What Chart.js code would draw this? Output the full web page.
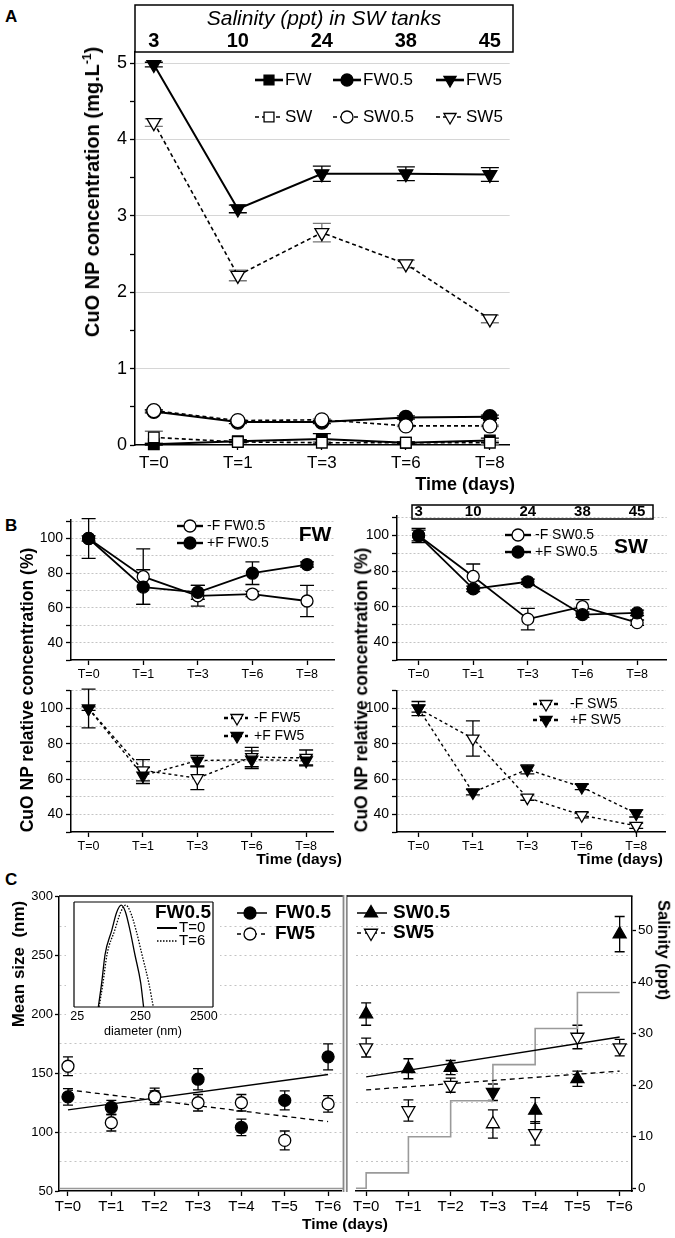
<!DOCTYPE html>
<html>
<head>
<meta charset="utf-8">
<title>CuO NP concentration and mean size</title>
<script src="https://cdn.jsdelivr.net/npm/chart.js@4.4.1/dist/chart.umd.min.js"></script>
<style>
  html, body { margin: 0; padding: 0; background: #fff; }
  body { position: relative; width: 675px; height: 1238px; overflow: hidden;
         font-family: "Liberation Sans", Arial, sans-serif; color: #000; }
  canvas { position: absolute; }
  .txt { position: absolute; white-space: nowrap; line-height: 1; }
  .b { font-weight: bold; }
  .ctr { transform: translate(-50%, -50%); }
  .up { transform: translate(-50%, -50%) rotate(-90deg); }
  .down { transform: translate(-50%, -50%) rotate(90deg); }
  sup { font-size: 0.6em; vertical-align: 0.7em; line-height: 0; }
  #insetC { background: #fff; }
</style>
</head>
<body>
<canvas id="chartA"></canvas>
<canvas id="chartBFW05"></canvas>
<canvas id="chartBSW05"></canvas>
<canvas id="chartBFW5"></canvas>
<canvas id="chartBSW5"></canvas>
<canvas id="chartCFW"></canvas>
<canvas id="chartCSW"></canvas>
<canvas id="insetC"></canvas>

<div class="txt b" style="left:5px;top:8px;font-size:17px">A</div>
<div class="txt b" style="left:5px;top:517px;font-size:17px">B</div>
<div class="txt b" style="left:5px;top:871px;font-size:17px">C</div>

<div class="txt b up" style="left:92px;top:192px;font-size:20px">CuO NP concentration (mg.L<sup>-1</sup>)</div>
<div class="txt b" style="right:160px;top:475px;font-size:18px">Time (days)</div>

<div class="txt b up" style="left:28px;top:690px;font-size:17.5px">CuO NP relative concentration (%)</div>
<div class="txt b up" style="left:362px;top:690px;font-size:17.5px">CuO NP relative concentration (%)</div>
<div class="txt b ctr" style="left:315px;top:533px;font-size:21px">FW</div>
<div class="txt b ctr" style="left:631px;top:545px;font-size:21px">SW</div>
<div class="txt b" style="right:333px;top:851px;font-size:15.5px">Time (days)</div>
<div class="txt b" style="right:12px;top:851px;font-size:15.5px">Time (days)</div>

<div class="txt b up" style="left:18px;top:964px;font-size:17px">Mean size&nbsp;&nbsp;(nm)</div>
<div class="txt b down" style="left:664px;top:950px;font-size:16.5px">Salinity (ppt)</div>
<div class="txt b ctr" style="left:345px;top:1224px;font-size:15.5px">Time (days)</div>
<div class="txt ctr" style="left:143px;top:1031px;font-size:12.5px">diameter (nm)</div>

<script>
Chart.defaults.font.family = '"Liberation Sans", Arial, sans-serif';
Chart.defaults.color = '#000';

// ---- shared categories ----
const timeLabels = ['T=0', 'T=1', 'T=3', 'T=6', 'T=8'];
const timeSlots = [0, 1, 2, 3, 4];
const swSalinity = [3, 10, 24, 38, 45];

// ---- panel A: CuO NP concentration (mg/L) ----
const concFW = [0.01, 0.05, 0.08, 0.03, 0.06];
const concFWErr = [0.01, 0.02, 0.07, 0.01, 0.03];
const concFW05 = [0.44, 0.30, 0.30, 0.36, 0.37];
const concFW05Err = [0.02, 0.02, 0.02, 0.02, 0.02];
const concFW5 = [4.98, 3.09, 3.55, 3.55, 3.54];
const concFW5Err = [0.03, 0.05, 0.10, 0.09, 0.09];
const concSW = [0.10, 0.04, 0.03, 0.03, 0.03];
const concSWErr = [0.08, 0.01, 0.01, 0.01, 0.02];
const concSW05 = [0.45, 0.32, 0.33, 0.25, 0.25];
const concSW05Err = [0.01, 0.01, 0.01, 0.01, 0.01];
const concSW5 = [4.22, 2.22, 2.78, 2.37, 1.65];
const concSW5Err = [0.05, 0.07, 0.12, 0.05, 0.05];

// ---- panel B: relative concentration (%) ----
const relFW05noF = [100, 78, 67, 68, 64];
const relFW05noFErr = [11.5, 16, 6, 1.5, 9];
const relFW05F = [100, 72, 69, 80, 85];
const relFW05FErr = [1.5, 10, 4, 6.5, 1.5];
const relSW05noF = [100, 77, 53, 60, 51];
const relSW05noFErr = [4, 7, 6, 4, 1.5];
const relSW05F = [100, 70, 74, 55.5, 56.5];
const relSW05FErr = [3, 1.5, 1.5, 1.5, 1.5];
const relFW5noF = [100, 65, 60.5, 72.5, 72];
const relFW5noFErr = [1, 6, 6.5, 5.5, 4.5];
const relFW5F = [100, 62, 70.5, 71, 70.5];
const relFW5FErr = [11, 4.5, 3, 5, 2.5];
const relSW5noF = [100, 83, 49.5, 39.5, 33.5];
const relSW5noFErr = [2, 10, 1.5, 1.5, 1.5];
const relSW5F = [100, 52.5, 65.5, 55.5, 40.5];
const relSW5FErr = [4, 1.5, 2.5, 1.5, 2];

// ---- panel C: mean size (nm) and salinity (ppt) ----
const dayLabels = ['T=0', 'T=1', 'T=2', 'T=3', 'T=4', 'T=5', 'T=6'];
const days = [0, 1, 2, 3, 4, 5, 6];
const sizeFW05 = [130, 121, 130.5, 145, 104, 127, 164];
const sizeFW05Err = [7, 6, 7, 9, 7, 8, 11];
const sizeFW5 = [156, 108, 130, 125, 125, 93, 124];
const sizeFW5Err = [8, 7, 5, 7, 7, 8, 7];
const sizeSW05 = [200.5, 154, 155, 134, 118.5, 145.5, 268.5];
const sizeSW05Err = [9.5, 8.5, 6, 7, 11, 6.5, 15];
const sizeSW5 = [172, 118.5, 140, 107, 99, 181, 172];
const sizeSW5Err = [8, 9, 6, 12, 10, 10, 7];
const trendDays = [0, 6];
const trendFW05 = [119, 149];
const trendFW5 = [136, 109];
const trendSW05 = [147, 181];
const trendSW5 = [136, 152];
const salinityPpt = [3, 10, 17, 24, 31, 38, 38];

// ---- panel C inset: DLS distribution FW0.5 ----
const dlsDiamT0 = [54, 61, 69, 88, 105, 124, 144, 171, 204, 252, 280];
const dlsT0 = [0, 0.23, 0.5, 0.73, 0.9, 0.97, 0.91, 0.73, 0.5, 0.23, 0];
const dlsDiamT6 = [55.5, 64, 74, 98, 121, 146, 172, 213, 264, 338, 399];
const dlsT6 = [0, 0.23, 0.5, 0.73, 0.9, 0.97, 0.91, 0.73, 0.5, 0.23, 0];
const dlsTicks = [25, 250, 2500];

// ---------- helpers ----------
function drawMarker(ctx, style, rot, x, y, r, fill, lw) {
  ctx.save();
  ctx.translate(x, y);
  ctx.rotate((rot || 0) * Math.PI / 180);
  ctx.beginPath();
  if (style === 'rect') {
    const s = r * Math.SQRT1_2;
    ctx.rect(-s, -s, 2 * s, 2 * s);
  } else if (style === 'triangle') {
    for (let k = 0; k < 3; k++) {
      const a = k * 2 * Math.PI / 3;
      ctx.lineTo(Math.sin(a) * r, -Math.cos(a) * r);
    }
    ctx.closePath();
  } else {
    ctx.arc(0, 0, r, 0, Math.PI * 2);
  }
  ctx.fillStyle = fill;
  ctx.fill();
  ctx.setLineDash([]);
  ctx.lineWidth = lw;
  ctx.strokeStyle = '#000';
  ctx.stroke();
  ctx.restore();
}

function series(label, xs, ys, errs, st) {
  return {
    label: label,
    data: ys.map((y, i) => ({ x: xs[i], y: y })),
    errors: errs,
    errorColor: st.errColor || '#000',
    capHalf: st.cap || 6,
    borderColor: '#000',
    borderWidth: st.lw == null ? 1.8 : st.lw,
    borderDash: st.dash || [],
    showLine: st.line !== false,
    tension: 0,
    pointStyle: st.shape || 'circle',
    pointRotation: st.rot || 0,
    pointRadius: st.r == null ? 6 : st.r,
    pointBorderWidth: 1.3,
    pointBorderColor: '#000',
    pointBackgroundColor: st.open ? '#fff' : '#000',
    fill: false,
    clip: false,
    yAxisID: st.axis || 'y'
  };
}

function timeAxis(o) {
  return {
    type: 'linear', min: o.min, max: o.max,
    afterBuildTicks: s => { s.ticks = o.slots.map(v => ({ value: v })); },
    afterFit: s => { s.height = o.height; },
    ticks: { autoSkip: false, maxRotation: 0, padding: o.pad || 2, font: { size: o.font },
             color: '#000', callback: (v, i) => o.labels[i] },
    grid: { drawOnChartArea: false, drawTicks: true, tickLength: 5, tickColor: '#000', tickWidth: 1.3 },
    border: { color: '#000', width: 1.5 }
  };
}

function valueAxis(o) {
  return {
    type: 'linear', position: o.position || 'left', min: o.min, max: o.max,
    afterBuildTicks: s => { s.ticks = o.ticks.map(v => ({ value: v })); },
    afterFit: s => { s.width = o.width; },
    ticks: { display: o.labels !== false, autoSkip: false, padding: o.pad == null ? 3 : o.pad,
             font: { size: o.font || 14 }, color: '#000',
             callback: v => o.labelIf(v) ? String(v) : '' },
    grid: {
      drawOnChartArea: o.grid !== false,
      color: c => (c.tick && o.gridIf(c.tick.value)) ? o.gridColor : 'rgba(0,0,0,0)',
      lineWidth: 1,
      drawTicks: o.tickLen > 0,
      tickLength: o.tickLen || 0,
      tickColor: c => (c.tick && o.tickIf(c.tick.value)) ? '#000' : 'rgba(0,0,0,0)',
      tickWidth: 1.3
    },
    border: { display: o.border !== false, color: '#000', width: 1.5, dash: o.dash || [] }
  };
}

function steps(from, to, step) {
  const out = [];
  for (let v = from; v <= to + 1e-9; v += step) out.push(Math.round(v * 100) / 100);
  return out;
}

// ---------- plugins ----------
const errorBars = {
  id: 'errorBars',
  beforeDatasetsDraw(chart) {
    const ctx = chart.ctx;
    chart.data.datasets.forEach((ds, i) => {
      if (!ds.errors) return;
      const meta = chart.getDatasetMeta(i);
      const xs = chart.scales[meta.xAxisID], ys = chart.scales[meta.yAxisID];
      ctx.save();
      ctx.strokeStyle = ds.errorColor;
      ctx.lineWidth = 1.3;
      ds.data.forEach((p, k) => {
        const e = ds.errors[k];
        if (!e) return;
        const x = xs.getPixelForValue(p.x);
        const y1 = ys.getPixelForValue(p.y - e), y2 = ys.getPixelForValue(p.y + e);
        const c = ds.capHalf;
        ctx.beginPath();
        ctx.moveTo(x, y1); ctx.lineTo(x, y2);
        ctx.moveTo(x - c, y1); ctx.lineTo(x + c, y1);
        ctx.moveTo(x - c, y2); ctx.lineTo(x + c, y2);
        ctx.stroke();
      });
      ctx.restore();
    });
  }
};

const keyPlugin = {
  id: 'key',
  afterDraw(chart, args, o) {
    if (!o || !o.items) return;
    const ctx = chart.ctx;
    const ox = chart.canvas.offsetLeft, oy = chart.canvas.offsetTop;
    ctx.save();
    ctx.textBaseline = 'middle';
    ctx.textAlign = 'left';
    ctx.fillStyle = '#000';
    if (o.heading) {
      ctx.font = o.heading.font;
      ctx.fillText(o.heading.text, o.heading.x - ox, o.heading.y - oy);
    }
    o.items.forEach(it => {
      const ds = chart.data.datasets.find(d => d.label === it.label);
      const x = it.x - ox, y = it.y - oy;
      ctx.save();
      ctx.strokeStyle = '#000';
      ctx.lineWidth = it.lw || ds.borderWidth;
      ctx.setLineDash(it.dash || ds.borderDash || []);
      ctx.beginPath();
      ctx.moveTo(x - it.l, y);
      ctx.lineTo(x + it.r, y);
      ctx.stroke();
      ctx.restore();
      if (it.marker !== false) {
        const rot = Array.isArray(ds.pointRotation) ? ds.pointRotation[0] : ds.pointRotation;
        drawMarker(ctx, ds.pointStyle, rot, x, y, it.rad || ds.pointRadius, ds.pointBackgroundColor, ds.pointBorderWidth);
      }
      ctx.fillStyle = '#000';
      ctx.font = o.font;
      ctx.fillText(ds.label, x + it.r + it.gap, y);
    });
    ctx.restore();
  }
};

const headerBox = {
  id: 'headerBox',
  afterDraw(chart, args, o) {
    if (!o || !o.values) return;
    const ctx = chart.ctx, xs = chart.scales.x;
    const ox = chart.canvas.offsetLeft, oy = chart.canvas.offsetTop;
    ctx.save();
    ctx.strokeStyle = '#000';
    ctx.lineWidth = 1.5;
    ctx.strokeRect(o.left - ox, o.top - oy, o.right - o.left, o.bottom - o.top);
    ctx.fillStyle = '#000';
    ctx.textAlign = 'center';
    ctx.textBaseline = 'middle';
    if (o.title) {
      ctx.font = o.titleFont;
      ctx.fillText(o.title, (o.left + o.right) / 2 - ox, o.titleY - oy);
    }
    ctx.font = o.font;
    o.values.forEach((v, i) => ctx.fillText(String(v), xs.getPixelForValue(o.slots[i]), o.labelY - oy));
    ctx.restore();
  }
};

const framePlugin = {
  id: 'frame',
  afterDraw(chart, args, o) {
    if (!o || !o.lines) return;
    const ctx = chart.ctx;
    const ox = chart.canvas.offsetLeft, oy = chart.canvas.offsetTop;
    o.lines.forEach(l => {
      ctx.save();
      ctx.strokeStyle = l.c;
      ctx.lineWidth = l.w;
      ctx.beginPath();
      ctx.moveTo(l.x1 - ox, l.y1 - oy);
      ctx.lineTo(l.x2 - ox, l.y2 - oy);
      ctx.stroke();
      ctx.restore();
    });
  }
};

function fixedChart(id, box, datasets, scales, pluginOpts) {
  const cv = document.getElementById(id);
  const left = box.L - (box.yW || 0) - (box.pL || 0);
  const top = box.T - (box.pT || 0);
  const width = box.R + (box.rW || 0) + (box.pR || 0) - left;
  const height = box.B + (box.xH || 0) + (box.pB || 0) - top;
  Object.assign(cv.style, { left: left + 'px', top: top + 'px', width: width + 'px', height: height + 'px' });
  cv.width = width;
  cv.height = height;
  return new Chart(cv, {
    type: 'line',
    data: { datasets: datasets },
    options: {
      responsive: false, animation: false, devicePixelRatio: 1, events: [],
      layout: { padding: { left: box.pL || 0, top: box.pT || 0, right: box.pR || 0, bottom: box.pB || 0 } },
      scales: scales,
      plugins: Object.assign({ legend: { display: false }, tooltip: { enabled: false } }, pluginOpts)
    },
    plugins: [errorBars, keyPlugin, headerBox, framePlugin]
  });
}

// ---------- Panel A ----------
const openA = { open: true, dash: [4, 3], lw: 1.6, errColor: '#777', cap: 9, r: 7 };
const fullA = { lw: 2, cap: 9, r: 7 };
fixedChart('chartA', { L: 135, T: 52, R: 513, B: 445, yW: 50, xH: 30, pT: 50, pR: 6 }, [
  series('SW5', timeSlots, concSW5, concSW5Err, Object.assign({}, openA, { shape: 'triangle', rot: 180, r: 8 })),
  series('SW0.5', timeSlots, concSW05, concSW05Err, Object.assign({}, openA, { shape: 'circle' })),
  series('SW', timeSlots, concSW, concSWErr, Object.assign({}, openA, { shape: 'rect', r: 7.5 })),
  series('FW5', timeSlots, concFW5, concFW5Err, Object.assign({}, fullA, { shape: 'triangle', rot: 180, r: 8 })),
  series('FW0.5', timeSlots, concFW05, concFW05Err, Object.assign({}, fullA, { shape: 'circle' })),
  series('FW', timeSlots, concFW, concFWErr, Object.assign({}, fullA, { shape: 'rect', r: 7.5 }))
], {
  x: timeAxis({ min: -0.224, max: 4.236, slots: timeSlots, labels: timeLabels, font: 17, height: 30, pad: 3 }),
  y: valueAxis({ min: 0, max: 5.144, ticks: steps(0, 5, 0.5), width: 50, font: 18, tickLen: 5,
                 labelIf: v => Number.isInteger(v), gridIf: v => v > 0 && Number.isInteger(v),
                 tickIf: () => true, gridColor: '#d6d6d6' })
}, {
  headerBox: { left: 135, right: 513, top: 5, bottom: 52, title: 'Salinity (ppt) in SW tanks',
               titleFont: 'italic 21px "Liberation Sans", Arial, sans-serif', titleY: 19,
               font: 'bold 20px "Liberation Sans", Arial, sans-serif', labelY: 41,
               values: swSalinity, slots: timeSlots },
  key: { font: '17px "Liberation Sans", Arial, sans-serif', items: [
    { label: 'FW', x: 269, y: 80, l: 14, r: 14, gap: 2, lw: 2.6, rad: 7 },
    { label: 'FW0.5', x: 347, y: 80, l: 14, r: 14, gap: 2, lw: 2.6, rad: 6 },
    { label: 'FW5', x: 450, y: 80, l: 14, r: 14, gap: 2, lw: 2.6, rad: 7 },
    { label: 'SW', x: 269, y: 117, l: 14, r: 14, gap: 2, lw: 1.5, rad: 7 },
    { label: 'SW0.5', x: 347, y: 117, l: 14, r: 14, gap: 2, lw: 1.5, rad: 6 },
    { label: 'SW5', x: 450, y: 117, l: 14, r: 14, gap: 2, lw: 1.5, rad: 7 }
  ] }
});

// ---------- Panel B ----------
function relAxis(min, max) {
  return valueAxis({ min: min, max: max, ticks: steps(30, 110, 10), width: 40, font: 14, tickLen: 5,
                     labelIf: v => v >= 40 && v <= 100 && v % 20 === 0, gridIf: v => v > 30,
                     tickIf: () => true, gridColor: '#c4c4c4', dash: [2, 2] });
}
const keyFontB = '14px "Liberation Sans", Arial, sans-serif';
const fullB = { cap: 7, r: 6 };
const openB = { open: true, cap: 7, r: 6 };

fixedChart('chartBFW05', { L: 71, T: 516, R: 340, B: 660, yW: 40, xH: 22, pT: 8, pR: 2 }, [
  series('+F FW0.5', timeSlots, relFW05F, relFW05FErr, fullB),
  series('-F FW0.5', timeSlots, relFW05noF, relFW05noFErr, openB)
], {
  x: timeAxis({ min: -0.323, max: 4.507, slots: timeSlots, labels: timeLabels, font: 12.5, height: 22 }),
  y: relAxis(30, 111)
}, {
  key: { font: keyFontB, items: [
    { label: '-F FW0.5', x: 190, y: 526, l: 13, r: 13, gap: 4, lw: 2.4 },
    { label: '+F FW0.5', x: 190, y: 543, l: 13, r: 13, gap: 4, lw: 2.4 }
  ] }
});

fixedChart('chartBSW05', { L: 397, T: 516, R: 672, B: 660, yW: 40, xH: 22, pT: 14, pR: 2 }, [
  series('+F SW0.5', timeSlots, relSW05F, relSW05FErr, fullB),
  series('-F SW0.5', timeSlots, relSW05noF, relSW05noFErr, openB)
], {
  x: timeAxis({ min: -0.395, max: 4.542, slots: timeSlots, labels: timeLabels, font: 12.5, height: 22 }),
  y: relAxis(30, 111)
}, {
  headerBox: { left: 412, right: 653, top: 505, bottom: 519, labelY: 512,
               font: 'bold 15px "Liberation Sans", Arial, sans-serif', values: swSalinity, slots: timeSlots },
  key: { font: keyFontB, items: [
    { label: '-F SW0.5', x: 518, y: 535, l: 13, r: 13, gap: 4, lw: 2.4 },
    { label: '+F SW0.5', x: 518, y: 552, l: 13, r: 13, gap: 4, lw: 2.4 }
  ] }
});

const fullB5 = { cap: 7, r: 7, shape: 'triangle', rot: 180, dash: [3, 3], lw: 1.4 };
const openB5 = { open: true, cap: 7, r: 7, shape: 'triangle', rot: 180, dash: [3, 3], lw: 1.4 };

fixedChart('chartBFW5', { L: 71, T: 687, R: 340, B: 832, yW: 40, xH: 22, pT: 8, pR: 2 }, [
  series('+F FW5', timeSlots, relFW5F, relFW5FErr, fullB5),
  series('-F FW5', timeSlots, relFW5noF, relFW5noFErr, openB5)
], {
  x: timeAxis({ min: -0.323, max: 4.507, slots: timeSlots, labels: timeLabels, font: 12.5, height: 22 }),
  y: relAxis(30, 110.3)
}, {
  key: { font: keyFontB, items: [
    { label: '-F FW5', x: 237, y: 718, l: 13, r: 11, gap: 6, lw: 2.4, dash: [4, 3] },
    { label: '+F FW5', x: 237, y: 736, l: 13, r: 11, gap: 6, lw: 2.4, dash: [4, 3] }
  ] }
});

fixedChart('chartBSW5', { L: 397, T: 687, R: 672, B: 832, yW: 40, xH: 22, pT: 8, pR: 2 }, [
  series('+F SW5', timeSlots, relSW5F, relSW5FErr, fullB5),
  series('-F SW5', timeSlots, relSW5noF, relSW5noFErr, openB5)
], {
  x: timeAxis({ min: -0.395, max: 4.542, slots: timeSlots, labels: timeLabels, font: 12.5, height: 22 }),
  y: relAxis(30, 110.3)
}, {
  key: { font: keyFontB, items: [
    { label: '-F SW5', x: 546, y: 704, l: 13, r: 12, gap: 12, lw: 2.4, dash: [4, 3] },
    { label: '+F SW5', x: 546, y: 720, l: 13, r: 12, gap: 12, lw: 2.4, dash: [4, 3] }
  ] }
});

// ---------- Panel C ----------
function sizeAxis(showLabels) {
  return valueAxis({ min: 50, max: 300, ticks: steps(50, 300, 25), width: showLabels ? 40 : 0,
                     font: 13, tickLen: showLabels ? 4 : 0, labels: showLabels, pad: 2, border: showLabels,
                     labelIf: v => v % 50 === 0, gridIf: v => v > 50 && v < 300,
                     tickIf: v => v % 50 === 0, gridColor: '#c4c4c4', dash: [2, 3] });
}
const keyFontC = 'bold 19px "Liberation Sans", Arial, sans-serif';

fixedChart('chartCFW', { L: 59, T: 896, R: 343, B: 1191, yW: 40, xH: 26, pT: 9, pR: 6 }, [
  series('FW5', days, sizeFW5, sizeFW5Err, { open: true, line: false, cap: 5, r: 6, dash: [4, 3], lw: 1.3 }),
  series('FW0.5', days, sizeFW05, sizeFW05Err, { line: false, cap: 5, r: 6, lw: 1.3 }),
  series('FW0.5 trend', trendDays, trendFW05, null, { r: 0, lw: 1.3 }),
  series('FW5 trend', trendDays, trendFW5, null, { r: 0, lw: 1.3, dash: [5, 4] })
], {
  x: timeAxis({ min: -0.207, max: 6.314, slots: days, labels: dayLabels, font: 15, height: 26 }),
  y: sizeAxis(true)
}, {
  frame: { lines: [
    { x1: 59, y1: 896, x2: 344, y2: 896, c: '#000', w: 1.5 },
    { x1: 60, y1: 1188.5, x2: 343, y2: 1188.5, c: '#999', w: 1.5 },
    { x1: 343.5, y1: 895, x2: 343.5, y2: 1192, c: '#888', w: 1.8 },
    { x1: 346.8, y1: 895, x2: 346.8, y2: 1192, c: '#888', w: 1.8 }
  ] },
  key: { font: keyFontC, items: [
    { label: 'FW0.5', x: 250, y: 913, l: 13, r: 17, gap: 8, lw: 1.5, dash: [] },
    { label: 'FW5', x: 250, y: 934, l: 13, r: 17, gap: 8, lw: 1.5, dash: [4, 4] }
  ] }
});

const salinityStep = [{ x: -0.245, y: 0 }].concat(days.map((d, i) => ({ x: d, y: salinityPpt[i] })));
fixedChart('chartCSW', { L: 347, T: 896, R: 632, B: 1191, yW: 0, rW: 30, xH: 26, pT: 9, pR: 0 }, [
  series('SW0.5', days, sizeSW05, sizeSW05Err,
         { line: false, cap: 5, r: 7.5, shape: 'triangle', rot: [0, 0, 0, 180, 0, 0, 0], lw: 1.3 }),
  series('SW5', days, sizeSW5, sizeSW5Err,
         { open: true, line: false, cap: 5, r: 7.5, shape: 'triangle', rot: [180, 180, 180, 0, 180, 180, 180], lw: 1.3, dash: [4, 3] }),
  series('SW0.5 trend', trendDays, trendSW05, null, { r: 0, lw: 1.3 }),
  series('SW5 trend', trendDays, trendSW5, null, { r: 0, lw: 1.3, dash: [5, 4] }),
  {
    label: 'Salinity', data: salinityStep, yAxisID: 'y2', stepped: 'before',
    borderColor: '#9a9a9a', borderWidth: 1.6, pointRadius: 0, fill: false
  }
], {
  x: timeAxis({ min: -0.245, max: 6.292, slots: days, labels: dayLabels, font: 15, height: 26 }),
  y: sizeAxis(false),
  y2: valueAxis({ position: 'right', min: -0.52, max: 56.5, ticks: [0, 10, 20, 30, 40, 50], width: 30,
                  font: 13.5, tickLen: 4, pad: 2, grid: false, labelIf: () => true, gridIf: () => false,
                  tickIf: () => true, gridColor: 'rgba(0,0,0,0)' })
}, {
  frame: { lines: [
    { x1: 346, y1: 896, x2: 632.5, y2: 896, c: '#000', w: 1.5 }
  ] },
  key: { font: keyFontC, items: [
    { label: 'SW0.5', x: 371, y: 913, l: 14, r: 16, gap: 6, lw: 1.5, dash: [] },
    { label: 'SW5', x: 371, y: 933, l: 14, r: 16, gap: 6, lw: 1.5, dash: [4, 4] }
  ] }
});

// ---------- Panel C inset ----------
fixedChart('insetC', { L: 74, T: 902, R: 213, B: 1007, pL: 8, pT: 4, pR: 7, xH: 16, pB: 15 }, [
  { label: 'T=0', data: dlsDiamT0.map((d, i) => ({ x: d, y: dlsT0[i] })), borderColor: '#000',
    borderWidth: 1.3, pointRadius: 0, cubicInterpolationMode: 'monotone', fill: false, borderDash: [] },
  { label: 'T=6', data: dlsDiamT6.map((d, i) => ({ x: d, y: dlsT6[i] })), borderColor: '#000',
    borderWidth: 1.3, pointRadius: 0, cubicInterpolationMode: 'monotone', fill: false, borderDash: [1.5, 1.5] }
], {
  x: {
    type: 'logarithmic', min: 22.3, max: 3070,
    afterBuildTicks: s => { s.ticks = dlsTicks.map(v => ({ value: v })); },
    afterFit: s => { s.height = 16; },
    ticks: { autoSkip: false, maxRotation: 0, padding: 2, font: { size: 12.5 }, color: '#000',
             callback: v => String(v) },
    grid: { drawOnChartArea: false, drawTicks: false },
    border: { display: false }
  },
  y: { display: false, min: 0, max: 1 }
}, {
  frame: { lines: [
    { x1: 74, y1: 902, x2: 213, y2: 902, c: '#000', w: 1.2 },
    { x1: 74, y1: 1007, x2: 213, y2: 1007, c: '#000', w: 1.2 },
    { x1: 74, y1: 902, x2: 74, y2: 1007, c: '#000', w: 1.2 },
    { x1: 213, y1: 902, x2: 213, y2: 1007, c: '#000', w: 1.2 }
  ] },
  key: {
    font: '15px "Liberation Sans", Arial, sans-serif',
    heading: { text: 'FW0.5', x: 155, y: 913, font: 'bold 19px "Liberation Sans", Arial, sans-serif' },
    items: [
      { label: 'T=0', x: 167, y: 928, l: 10, r: 10, gap: 2, lw: 2, marker: false },
      { label: 'T=6', x: 167, y: 941, l: 10, r: 10, gap: 2, lw: 1.5, marker: false }
    ]
  }
});
</script>
</body>
</html>
